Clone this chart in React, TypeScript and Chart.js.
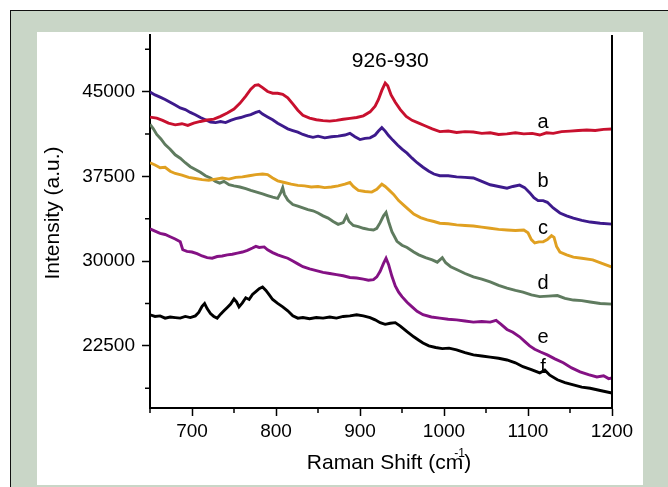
import React, { useEffect, useRef } from "react";
import { Chart, registerables } from "chart.js";

Chart.register(...registerables);

const FONT = "'Liberation Sans', Arial, sans-serif";

// x-axis (Raman shift, cm-1) major tick labels and y-axis (intensity) tick labels
const xTickValues = [700, 800, 900, 1000, 1100, 1200];
const xMinorTicks = [650, 750, 850, 950, 1050, 1150];
const yTickValues = [22500, 30000, 37500, 45000];
const yMinorTicks = [18750, 26250, 33750, 41250, 48750];

// curve a
const shiftA = [650, 658, 665, 672, 680, 688, 695, 702, 710, 718, 726, 734, 742, 750, 757, 764, 770, 775, 779, 784, 790, 796, 802, 808, 814, 820, 826, 832, 840, 848, 856, 864, 872, 880, 888, 896, 904, 912, 918, 922, 926, 930, 933, 937, 942, 948, 955, 962, 970, 978, 986, 995, 1005, 1015, 1025, 1035, 1045, 1055, 1065, 1075, 1085, 1095, 1105, 1114, 1122, 1130, 1140, 1150, 1160, 1170, 1180, 1190, 1200];
const intensityA = [42740, 42650, 42450, 42200, 42050, 42150, 42000, 42200, 42350, 42480, 42550, 42800, 43100, 43450, 43950, 44600, 45200, 45550, 45600, 45350, 45000, 44850, 44850, 44750, 44450, 43900, 43350, 42900, 42650, 42500, 42420, 42380, 42450, 42550, 42620, 42700, 42850, 43200, 43700, 44300, 45100, 45750, 45500, 44700, 44050, 43400, 42800, 42450, 42200, 41950, 41700, 41450, 41500, 41380, 41450, 41420, 41300, 41350, 41200, 41250, 41350, 41250, 41300, 41150, 41350, 41300, 41450, 41500, 41550, 41600, 41550, 41650, 41680];

// curve b
const shiftB = [650, 656, 662, 668, 674, 680, 686, 692, 698, 704, 710, 716, 722, 728, 734, 740, 746, 752, 758, 764, 770, 776, 780, 784, 790, 796, 802, 808, 814, 820, 826, 832, 838, 844, 850, 858, 866, 874, 882, 888, 894, 900, 906, 912, 918, 922, 926, 930, 934, 939, 945, 950, 956, 962, 968, 975, 982, 988, 995, 1005, 1015, 1025, 1035, 1045, 1055, 1065, 1075, 1082, 1090, 1096, 1102, 1107, 1112, 1118, 1123, 1130, 1138, 1146, 1154, 1164, 1174, 1186, 1200];
const intensityB = [44950, 44700, 44500, 44300, 44050, 43800, 43550, 43400, 43150, 42950, 42700, 42500, 42300, 42250, 42350, 42250, 42450, 42600, 42700, 42850, 42950, 43150, 43250, 43000, 42750, 42500, 42200, 41950, 41700, 41550, 41400, 41200, 41050, 40950, 41050, 40900, 41000, 41050, 41150, 41300, 41000, 40750, 40850, 40900, 41150, 41500, 41800, 41500, 41100, 40700, 40250, 39900, 39550, 39100, 38700, 38300, 37950, 37700, 37550, 37550, 37450, 37400, 37350, 37050, 36750, 36600, 36450, 36600, 36720, 36500, 36050, 35600, 35350, 35350, 35200, 34700, 34250, 34000, 33800, 33600, 33450, 33350, 33270];

// curve c
const shiftC = [650, 656, 662, 668, 674, 680, 688, 696, 704, 712, 720, 728, 736, 744, 752, 760, 768, 776, 784, 790, 796, 802, 810, 818, 826, 834, 842, 850, 858, 866, 874, 882, 888, 892, 898, 906, 914, 920, 926, 930, 935, 940, 946, 952, 958, 964, 972, 980, 988, 995, 1005, 1015, 1025, 1035, 1045, 1055, 1065, 1075, 1085, 1095, 1100, 1104, 1108, 1113, 1118, 1123, 1128, 1131, 1134, 1138, 1146, 1154, 1164, 1177, 1188, 1200];
const intensityC = [38700, 38500, 38250, 38300, 37950, 37750, 37600, 37400, 37300, 37200, 37150, 37250, 37350, 37250, 37400, 37450, 37550, 37650, 37700, 37650, 37350, 37100, 36950, 36800, 36700, 36650, 36550, 36600, 36500, 36550, 36650, 36800, 36950, 36600, 36250, 36150, 36100, 36350, 36800, 36600, 36250, 35900, 35350, 34950, 34550, 34150, 33850, 33650, 33500, 33350, 33300, 33200, 33150, 33100, 33000, 32900, 32800, 32750, 32700, 32750, 32500, 31900, 31600, 31700, 31700, 31900, 32250, 32100, 31300, 30800, 30550, 30350, 30250, 30100, 29800, 29470];

// curve d
const shiftD = [650, 654, 658, 663, 668, 674, 680, 686, 692, 698, 704, 710, 716, 722, 728, 733, 738, 744, 750, 757, 764, 770, 777, 784, 790, 796, 802, 806, 808, 810, 814, 820, 826, 832, 838, 844, 850, 856, 862, 868, 874, 880, 884, 887, 892, 898, 904, 910, 916, 920, 924, 928, 931, 934, 938, 944, 950, 956, 964, 970, 978, 986, 992, 998, 1002, 1008, 1015, 1025, 1035, 1045, 1055, 1065, 1075, 1085, 1094, 1104, 1114, 1124, 1135, 1144, 1154, 1164, 1174, 1186, 1200];
const intensityD = [42100, 41700, 41200, 40800, 40300, 39900, 39400, 39100, 38700, 38350, 38100, 37850, 37550, 37350, 37050, 36900, 37050, 36750, 36650, 36550, 36400, 36250, 36100, 35950, 35800, 35650, 35550, 36100, 36500, 35900, 35400, 35000, 34850, 34700, 34550, 34450, 34250, 34000, 33800, 33500, 33250, 33400, 34000, 33500, 33150, 33050, 32900, 32800, 32750, 32900, 33400, 34000, 34300, 33500, 32600, 31750, 31400, 31200, 30800, 30550, 30300, 30100, 29900, 30300, 29850, 29500, 29250, 28900, 28600, 28400, 28150, 27850, 27600, 27400, 27250, 27000, 26850, 26900, 26950, 26700, 26550, 26500, 26380, 26250, 26190];

// curve e
const shiftE = [650, 656, 662, 668, 674, 680, 686, 689, 694, 700, 706, 712, 718, 724, 730, 736, 742, 748, 754, 760, 766, 772, 776, 780, 786, 790, 796, 802, 808, 814, 820, 826, 832, 840, 848, 856, 864, 872, 880, 888, 896, 904, 910, 916, 920, 924, 928, 931, 934, 938, 942, 946, 950, 956, 962, 968, 975, 985, 995, 1005, 1015, 1025, 1035, 1045, 1055, 1062, 1068, 1075, 1082, 1090, 1096, 1102, 1108, 1115, 1123, 1132, 1142, 1152, 1162, 1172, 1182, 1190, 1196, 1200];
const intensityE = [32850, 32650, 32450, 32350, 32150, 31950, 31700, 31000, 30850, 30800, 30650, 30450, 30300, 30250, 30400, 30450, 30550, 30600, 30700, 30800, 30950, 31150, 31300, 31200, 31250, 31000, 30750, 30550, 30400, 30250, 30000, 29750, 29500, 29300, 29150, 29000, 28900, 28800, 28700, 28550, 28500, 28400, 28300, 28350, 28600, 29100, 29800, 30250, 29700, 28650, 27800, 27250, 26850, 26350, 25950, 25550, 25250, 25050, 24950, 24850, 24800, 24700, 24600, 24650, 24600, 24750, 24400, 23950, 23700, 23300, 22900, 22500, 22200, 21950, 21700, 21350, 21000, 20550, 20200, 19950, 19750, 19850, 19600, 19650];

// curve f
const shiftF = [650, 656, 662, 668, 674, 680, 686, 692, 698, 704, 708, 712, 715, 718, 722, 726, 730, 734, 738, 742, 746, 750, 753, 756, 760, 764, 768, 772, 776, 780, 784, 788, 792, 796, 802, 808, 814, 820, 826, 832, 840, 848, 856, 864, 872, 880, 888, 896, 904, 912, 918, 924, 930, 936, 942, 948, 956, 964, 970, 975, 982, 990, 998, 1006, 1015, 1025, 1035, 1045, 1055, 1065, 1075, 1085, 1094, 1104, 1114, 1120, 1126, 1135, 1144, 1154, 1164, 1174, 1186, 1200];
const intensityF = [25250, 25100, 25150, 24950, 25050, 25000, 24950, 25100, 25000, 25150, 25450, 26000, 26250, 25800, 25350, 25100, 24950, 25300, 25600, 25900, 26200, 26650, 26400, 25950, 26300, 26750, 26600, 27050, 27300, 27550, 27700, 27400, 27000, 26600, 26250, 25950, 25600, 25150, 24950, 25000, 24900, 25000, 24950, 25050, 24950, 25100, 25150, 25250, 25150, 25000, 24800, 24550, 24400, 24500, 24550, 24250, 23750, 23300, 23000, 22750, 22500, 22350, 22250, 22300, 22150, 21900, 21700, 21600, 21500, 21400, 21250, 21000, 20650, 20400, 20100, 20350, 19900, 19500, 19250, 19050, 18850, 18750, 18550, 18320];

const curveNames = ["a", "b", "c", "d", "e", "f"];
const curveColors = ["#c8102e", "#3d1a8c", "#e0a021", "#5f7b5f", "#841184", "#000000"];
const curveShifts = [shiftA, shiftB, shiftC, shiftD, shiftE, shiftF];
const curveIntensities = [intensityA, intensityB, intensityC, intensityD, intensityE, intensityF];

// letter labels next to each curve (data coordinates)
const labelShift = 1118;
const labelIntensity = [42300, 37000, 32900, 28050, 23200, 20600];
const peakNote = "926-930";
const peakNoteShift = 936;
const peakNoteIntensity = 47700;

const decorPlugin = {
  id: "decor",
  afterDraw(chart: any) {
    const ctx = chart.ctx;
    const area = chart.chartArea;
    const xs = chart.scales.x;
    const ys = chart.scales.y;
    ctx.save();
    ctx.strokeStyle = "#000";
    // right axis line
    ctx.lineWidth = 2;
    ctx.beginPath();
    ctx.moveTo(area.right, area.top);
    ctx.lineTo(area.right, area.bottom + 1);
    ctx.stroke();
    // minor ticks
    ctx.lineWidth = 1.5;
    ctx.beginPath();
    xMinorTicks.forEach((v) => {
      const px = xs.getPixelForValue(v);
      ctx.moveTo(px, area.bottom);
      ctx.lineTo(px, area.bottom + 5);
    });
    yMinorTicks.forEach((v) => {
      const py = ys.getPixelForValue(v);
      ctx.moveTo(area.left, py);
      ctx.lineTo(area.left - 5, py);
    });
    ctx.stroke();

    ctx.fillStyle = "#000";
    // curve letters
    ctx.font = `20px ${FONT}`;
    ctx.textAlign = "center";
    ctx.textBaseline = "middle";
    curveNames.forEach((n, i) => {
      ctx.fillText(n, xs.getPixelForValue(labelShift), ys.getPixelForValue(labelIntensity[i]));
    });
    // peak annotation
    ctx.font = `21px ${FONT}`;
    ctx.fillText(peakNote, xs.getPixelForValue(peakNoteShift), ys.getPixelForValue(peakNoteIntensity));

    // y title
    ctx.save();
    ctx.translate(53, 213);
    ctx.rotate(-Math.PI / 2);
    ctx.font = `21px ${FONT}`;
    ctx.textAlign = "center";
    ctx.textBaseline = "middle";
    ctx.fillText("Intensity (a.u.)", 0, 0);
    ctx.restore();

    // x title with superscript
    ctx.font = `21px ${FONT}`;
    ctx.textAlign = "left";
    ctx.textBaseline = "alphabetic";
    const main = "Raman Shift (cm";
    const w1 = ctx.measureText(main).width;
    const w2 = ctx.measureText(")").width;
    const total = w1 + w2 + 1;
    const startX = 389 - total / 2;
    const baseY = 469;
    ctx.fillText(main, startX, baseY);
    ctx.fillText(")", startX + w1 + 1, baseY);
    ctx.font = `12px ${FONT}`;
    ctx.fillText("-1", startX + w1 - 9, baseY - 12);
    ctx.restore();
  },
};

export default function App() {
  const ref = useRef<HTMLCanvasElement | null>(null);
  useEffect(() => {
    if (!ref.current) return;
    const datasets = curveNames.map((n, i) => ({
      label: n,
      data: curveShifts[i].map((x, j) => ({ x, y: curveIntensities[i][j] })),
      borderColor: curveColors[i],
      backgroundColor: curveColors[i],
      borderWidth: 2.9,
      pointRadius: 0,
      tension: 0,
      fill: false,
    }));
    const chart = new Chart(ref.current, {
      type: "line",
      data: { datasets },
      options: {
        animation: false,
        responsive: false,
        maintainAspectRatio: false,
        layout: { padding: { left: 37, right: 56, top: 35, bottom: 0 } },
        plugins: { legend: { display: false }, tooltip: { enabled: false } },
        scales: {
          x: {
            type: "linear",
            min: 650,
            max: 1200,
            afterBuildTicks: (s: any) => {
              s.ticks = xTickValues.map((v) => ({ value: v }));
            },
            afterFit: (s: any) => {
              s.height = 79;
            },
            grid: { drawOnChartArea: false, drawTicks: true, tickLength: 8, tickColor: "#000", tickWidth: 1.5 },
            border: { display: true, color: "#000", width: 2 },
            ticks: { color: "#000", font: { family: FONT, size: 19 }, padding: 4, maxRotation: 0, autoSkip: false, callback: (v: any) => String(v) },
          },
          y: {
            type: "linear",
            min: 17000,
            max: 50000,
            afterBuildTicks: (s: any) => {
              s.ticks = yTickValues.map((v) => ({ value: v }));
            },
            afterFit: (s: any) => {
              s.width = 113;
            },
            grid: { drawOnChartArea: false, drawTicks: true, tickLength: 8, tickColor: "#000", tickWidth: 1.5 },
            border: { display: true, color: "#000", width: 2 },
            ticks: { color: "#000", font: { family: FONT, size: 19 }, padding: 7, autoSkip: false, callback: (v: any) => String(v) },
          },
        },
      },
      plugins: [decorPlugin],
    } as any);
    return () => chart.destroy();
  }, []);

  return (
    <div style={{ position: "fixed", left: 0, top: 0, width: 668, height: 487, background: "#fff", overflow: "hidden" }}>
      <div
        style={{
          position: "absolute",
          left: 10,
          top: 10,
          width: 658,
          height: 477,
          background: "#c9d6c7",
          borderLeft: "1px solid #111",
          borderTop: "1px solid #111",
          boxSizing: "border-box",
        }}
      />
      <div style={{ position: "absolute", left: 37, top: 32, width: 606, height: 453, background: "#fff" }} />
      <canvas ref={ref} width={668} height={487} style={{ position: "absolute", left: 0, top: 0, width: 668, height: 487 }} />
    </div>
  );
}
